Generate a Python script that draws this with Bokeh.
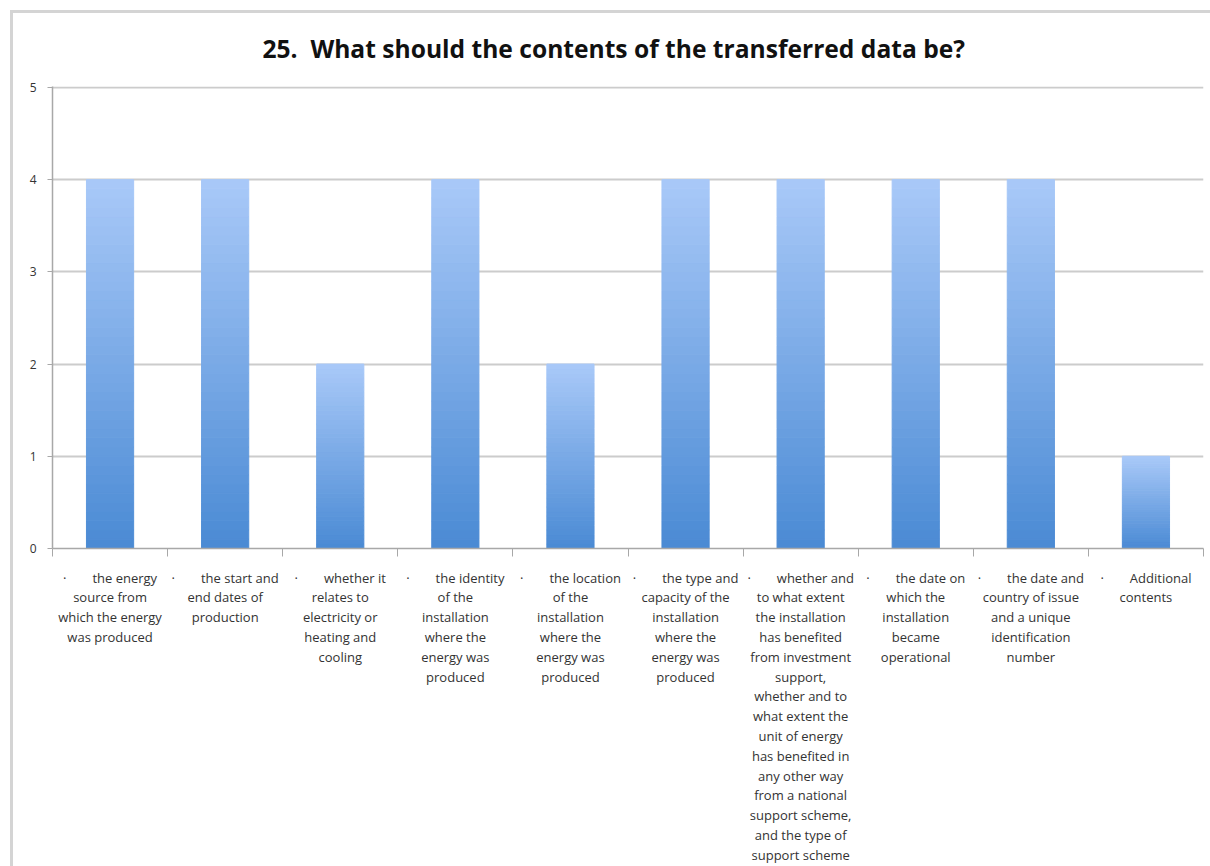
from bokeh.plotting import figure
from bokeh.models import Range1d, FixedTicker, InlineStyleSheet
from bokeh.embed import file_html
from bokeh.resources import INLINE

title_text = "25.\u00a0 What should the contents of the transferred data be?"

categories = [
    "the energy\nsource from\nwhich the energy\nwas produced",
    "the start and\nend dates of\nproduction",
    "whether it\nrelates to\nelectricity or\nheating and\ncooling",
    "the identity\nof the\ninstallation\nwhere the\nenergy was\nproduced",
    "the location\nof the\ninstallation\nwhere the\nenergy was\nproduced",
    "the type and\ncapacity of the\ninstallation\nwhere the\nenergy was\nproduced",
    "whether and\nto what extent\nthe installation\nhas benefited\nfrom investment\nsupport,\nwhether and to\nwhat extent the\nunit of energy\nhas benefited in\nany other way\nfrom a national\nsupport scheme,\nand the type of\nsupport scheme",
    "the date on\nwhich the\ninstallation\nbecame\noperational",
    "the date and\ncountry of issue\nand a unique\nidentification\nnumber",
    "Additional\ncontents",
]
values = [4, 4, 2, 4, 2, 4, 4, 4, 4, 1]
y_ticks = [0, 1, 2, 3, 4, 5]

FONT = "Open Sans"
n = len(categories)

p = figure(width=1210, height=866, output_backend="svg", toolbar_location=None,
           x_range=Range1d(0, n), y_range=Range1d(0, 5.01),
           min_border_left=52, min_border_right=7, min_border_top=86,
           min_border_bottom=309)
p.outline_line_color = None
p.background_fill_color = "white"
p.border_fill_color = "white"

p.title.text = title_text
p.title.text_font = FONT
p.title.text_font_size = "24.6px"
p.title.text_font_style = "bold"
p.title.text_color = "#111111"
p.title.align = "left"
p.title.offset = 210
p.title.standoff = 43

# gradient bars made of stacked slices
N = 40
light = (169, 201, 248)
dark = (74, 138, 212)
xs, bots, tops, cols = [], [], [], []
for i, v in enumerate(values):
    for k in range(N):
        t = (k + 0.5) / N
        c = tuple(int(round(dark[j] + (light[j] - dark[j]) * t)) for j in range(3))
        xs.append(i + 0.5)
        bots.append(v * k / N)
        tops.append(v * (k + 1) / N)
        cols.append("#%02x%02x%02x" % c)
p.vbar(x=xs, bottom=bots, top=tops, width=0.41, fill_color=cols, line_color=cols, line_width=1)

# axes
xa = p.xaxis[0]
xa.ticker = FixedTicker(ticks=[i + 0.5 for i in range(n)], minor_ticks=list(range(n + 1)))
xa.major_label_overrides = {i + 0.5: ("\u00b7\u2003\u2003" + c) for i, c in enumerate(categories)}
xa.major_tick_out = 0
xa.major_tick_in = 0
xa.minor_tick_out = 8
xa.minor_tick_in = 0
xa.minor_tick_line_color = "#a8a8a8"
xa.axis_line_color = "#a8a8a8"
xa.axis_line_width = 1.5
xa.major_label_text_font = FONT
xa.major_label_text_font_size = "13px"
xa.major_label_text_color = "#333333"
xa.major_label_text_line_height = 1.1
xa.major_label_standoff = 12

ya = p.yaxis[0]
ya.ticker = FixedTicker(ticks=y_ticks)
ya.major_tick_out = 5
ya.major_tick_in = 0
ya.minor_tick_line_color = None
ya.axis_line_color = "#a8a8a8"
ya.axis_line_width = 1.5
ya.major_tick_line_color = "#a8a8a8"
ya.major_label_text_font = FONT
ya.major_label_text_font_size = "12px"
ya.major_label_text_color = "#333333"
ya.major_label_standoff = 11

p.xgrid.grid_line_color = None
p.ygrid.grid_line_color = "#cccccc"
p.ygrid.grid_line_width = 2

# chart border (light grey frame around the whole chart, open at right/bottom)
p.stylesheets = [InlineStyleSheet(css="""
:host { position: relative; }
:host::after {
  content: "";
  position: absolute;
  left: 10px; top: 10px; width: 3000px; height: 3000px;
  border-left: 3px solid #d4d4d4;
  border-top: 3px solid #d4d4d4;
  pointer-events: none;
  z-index: 10;
}
""")]

open("out.html", "w").write(file_html(p, INLINE))
